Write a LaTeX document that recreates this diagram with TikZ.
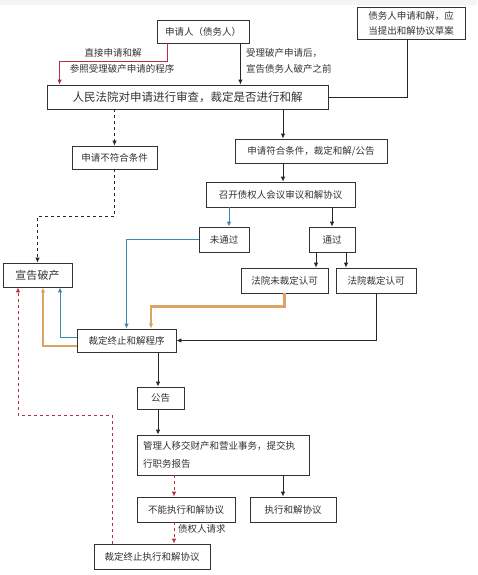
\documentclass[tikz,border=0pt]{standalone}
\usepackage{fontspec}
\newfontfamily\cjk{Noto Sans CJK SC}
\usepackage{xcolor}
\usetikzlibrary{arrows.meta,calc}
\definecolor{redline}{HTML}{B83040}
\definecolor{blueline}{HTML}{3A8BAE}
\definecolor{orangeline}{HTML}{DDA266}
\definecolor{inkgray}{HTML}{333333}

\begin{document}
\begin{tikzpicture}[x=1pt, y=1pt, >={Latex[length=5pt,width=4.5pt]},
    box/.style={draw=black!80, line width=0.8pt, fill=white, inner sep=0pt, text=inkgray,
                font=\cjk\fontsize{9.5}{15}\selectfont},
    lbl/.style={inner sep=0pt, text=inkgray, font=\cjk\fontsize{9.5}{11}\selectfont},
    link/.style={black!85, line width=0.9pt}]
  \useasboundingbox (0,0) rectangle (477,-575);
  \fill[gray!8] (0,0) rectangle (477,-5);
  \node[box, minimum width=92, minimum height=23] (app) at (203,-31.5) {申请人（债务人）};
  \node[box, minimum width=108, minimum height=32, align=left] (draft) at (411,-23)
        {债务人申请和解，应\\当提出和解协议草案};
  \node[box, minimum width=281, minimum height=24, font=\cjk\fontsize{11.5}{13}\selectfont] (court) at (187.5,-97)
        {人民法院对申请进行审查，裁定是否进行和解};
  \node[box, minimum width=85, minimum height=23] (reject) at (114.5,-157.5) {申请不符合条件};
  \node[box, minimum width=152, minimum height=24] (accept) at (311,-151) {申请符合条件，裁定和解/公告};
  \node[box, minimum width=149, minimum height=25] (meeting) at (280.5,-194.5) {召开债权人会议审议和解协议};
  \node[box, minimum width=50, minimum height=25] (fail) at (224,-239.5) {未通过};
  \node[box, minimum width=46, minimum height=25] (pass) at (332,-239.5) {通过};
  \node[box, minimum width=69, minimum height=24, font=\cjk\fontsize{11}{13}\selectfont] (bankrupt) at (37.5,-275) {宣告破产};
  \node[box, minimum width=87, minimum height=25] (noapprove) at (284.5,-280.5) {法院未裁定认可};
  \node[box, minimum width=80, minimum height=25] (approve) at (376,-280.5) {法院裁定认可};
  \node[box, minimum width=99, minimum height=23] (terminate) at (126.5,-340.5) {裁定终止和解程序};
  \node[box, minimum width=47, minimum height=22] (notice) at (160.5,-398) {公告};
  \node[box, minimum width=172, minimum height=40, text width=160, align=left,
        font=\cjk\fontsize{9.5}{18}\selectfont] (admin) at (223,-455)
        {管理人移交财产和营业事务，提交执\\行职务报告};
  \node[box, minimum width=98, minimum height=25] (cannot) at (186,-509.5) {不能执行和解协议};
  \node[box, minimum width=86, minimum height=25] (execute) at (293,-509.5) {执行和解协议};
  \node[box, minimum width=116, minimum height=25] (endexec) at (152,-556.5) {裁定终止执行和解协议};
  \coordinate (spine) at (283,0);
  \coordinate (lane) at (158,0);
  % labels beside the two entry arrows
  \node[lbl] (direct) at (113,-53) {直接申请和解};
  \node[lbl] (refer) at (122,-69) {参照受理破产申请的程序};
  \node[lbl, anchor=west] (after) at (246,-53) {受理破产申请后，};
  \node[lbl, anchor=west] (before) at (246,-69) {宣告债务人破产之前};
  \node[lbl, anchor=west] (creditor) at (178,-529) {债权人请求};
  % connectors
  \draw[redline, line width=0.9pt, ->] ([xshift=11pt]app.south west) -- ++(0,-18) -| ([xshift=13pt]court.north west);
  \draw[link, ->] ([xshift=-9pt]app.south east) -- ([xshift=-9pt]app.south east |- court.north);
  \draw[link] ([xshift=-4pt]draft.south) |- (court.east);
  \draw[link, dashed, ->] (reject.north |- court.south) -- (reject.north);
  \draw[link, ->] (court.south -| spine) -- (accept.north -| spine);
  \draw[link, ->] (accept.south -| spine) -- (meeting.north -| spine);
  \draw[blueline, line width=0.9pt, ->] ([xshift=5pt]fail.north |- meeting.south) -- ([xshift=5pt]fail.north);
  \draw[link, ->] (pass.north |- meeting.south) -- (pass.north);
  \draw[link, ->] ([xshift=-16pt]pass.south) -- ([xshift=-16pt]pass.south |- noapprove.north);
  \draw[link, ->] ([xshift=14pt]pass.south) -- ([xshift=14pt]pass.south |- approve.north);
  \draw[link, dashed, ->] (reject.south) -- ++(0,-47) -| (bankrupt.north);
  \draw[blueline, line width=0.9pt, ->] (fail.west) -| (terminate.north);
  \draw[orangeline, line width=2.2pt, ->] (noapprove.south) -- ++(0,-13) -| ([xshift=24.5pt]terminate.north);
  \draw[link, ->] (approve.south) |- (terminate.east);
  \draw[blueline, line width=0.9pt, ->] ([yshift=3.5pt]terminate.west) -| ([xshift=22.5pt]bankrupt.south);
  \draw[orangeline, line width=2.2pt, ->] ([yshift=-5.5pt]terminate.west) -| ([xshift=5.5pt]bankrupt.south);
  \draw[link, ->] (terminate.south -| lane) -- (notice.north -| lane);
  \draw[link, ->] (notice.south -| lane) -- (admin.north -| lane);
  \draw[redline, line width=0.9pt, dashed, ->] ([xshift=-12pt]admin.south -| cannot.north) -- ([xshift=-12pt]cannot.north);
  \draw[link, ->] (admin.south -| spine) -- (execute.north -| spine);
  \draw[redline, line width=0.9pt, dashed, ->] ([xshift=-12pt]cannot.south) -- ([xshift=-12pt]cannot.south |- endexec.north);
  \draw[redline, line width=0.9pt, dashed, ->] ([xshift=19pt]endexec.north west) -- ++(0,128) -| ([xshift=-19.5pt]bankrupt.south);
\end{tikzpicture}
\end{document}
